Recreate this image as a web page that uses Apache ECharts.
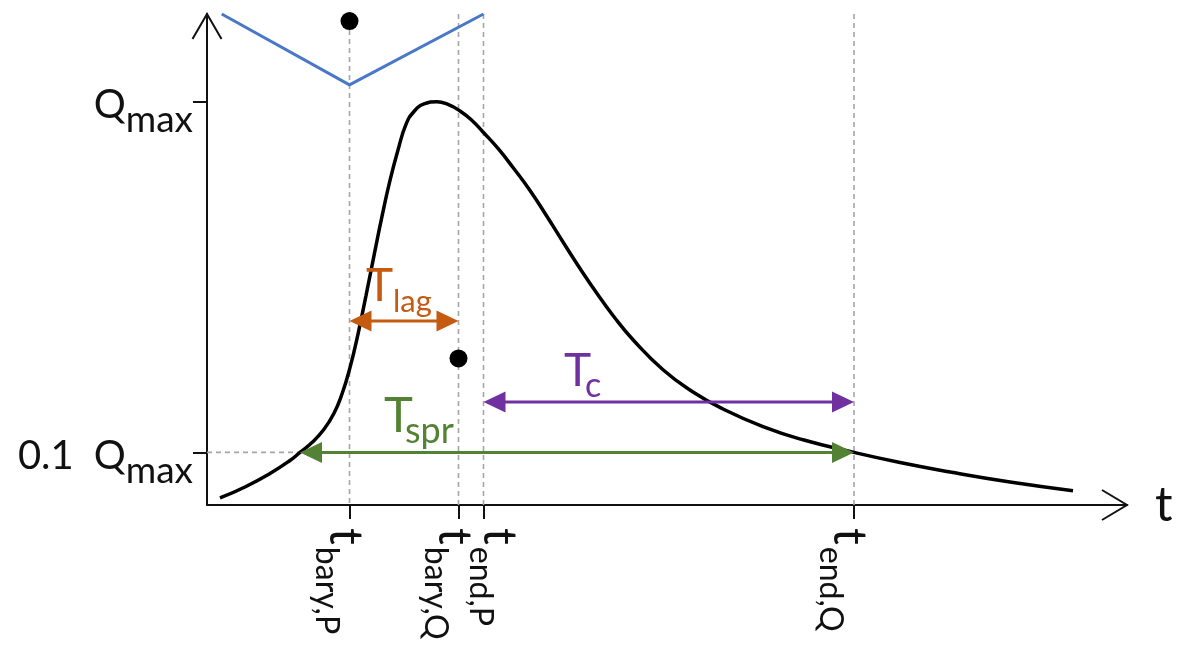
<!DOCTYPE html>
<html>
<head>
<meta charset="utf-8">
<script src="https://cdn.jsdelivr.net/npm/echarts@6/dist/echarts.min.js"></script>
<style>
  html, body { margin: 0; padding: 0; background: #ffffff; }
  #chart { width: 1184px; height: 651px; }
</style>
</head>
<body>
<div id="chart"></div>
<script>
// ---- event times on the t axis ----
const T_BARY_P = 14.25;
const T_BARY_Q = 25.15;
const T_END_P = 27.65;
const T_END_Q = 64.7;
const tickTimes = [T_BARY_P, T_BARY_Q, T_END_P, T_END_Q];
const tickSubs = ['bary,P', 'bary,Q', 'end,P', 'end,Q'];

// ---- discharge levels on the Q axis ----
const Q_MAX = 10;
const Q_TENTH = 1;
const qTicks = [Q_TENTH, Q_MAX];
const qTickMain = ['0.1\u2002Q', 'Q'];

// ---- hydrograph Q(t) ----
const flowT = [1.3, 3.8, 6.3, 8.3, 9.3, 10.5, 11.7, 12.7, 13.5, 14.3, 15.1, 15.9, 16.7, 17.5,
               18.3, 19.1, 19.9, 20.7, 21.7, 23.0, 24.1, 25.3, 26.5, 27.6, 29.1, 30.6, 32.3,
               34.0, 35.6, 37.3, 39.0, 40.6, 42.6, 45.6, 48.6, 51.6, 55.6, 59.6, 64.7,
               69.3, 74.3, 80.3, 86.6];
const flowQ = [-0.17, 0.112, 0.458, 0.792, 1.0, 1.254, 1.593, 2.003, 2.499, 3.176, 4.038, 5.024, 6.05, 7.056,
               7.98, 8.76, 9.417, 9.748, 9.941, 10.0, 9.928, 9.761, 9.517, 9.222, 8.799, 8.311, 7.721,
               7.054, 6.399, 5.719, 5.078, 4.513, 3.892, 3.122, 2.552, 2.114, 1.662, 1.323, 1.0,
               0.741, 0.497, 0.24, 0.017];

// ---- precipitation trace (hanging from the top) ----
const rainT = [1.47, T_BARY_P, T_END_P];
const rainQ = [12.25, 10.43, 12.25];

// ---- barycentres of P and Q ----
const baryT = [T_BARY_P, T_BARY_Q];
const baryQ = [12.07, 3.41];

// ---- time spans ----
const spanSubs = ['lag', 'c', 'spr'];
const spanFrom = [T_BARY_P, T_END_P, 9.3];
const spanTo = [T_BARY_Q, T_END_Q, T_END_Q];
const spanLevel = [4.37, 2.29, Q_TENTH];
const spanTextAt = [15.9, 35.7, 17.7];

// ---- axis ranges ----
const T_MIN = 0, T_MAX = 92;
const Q_MIN = -0.35, Q_TOP = 12.25;

// ---- styling ----
const FONT = 'Lato';
const INK = '#111111';
const GUIDE = '#a6a6a6';
const spanColors = ['#c55a11', '#7030a0', '#548235'];
const K_MID = 0.305; // canvas 'middle' line height above the alphabetic baseline, in em

const measureCtx = document.createElement('canvas').getContext('2d');
function textWidth(s, size) {
  measureCtx.font = size + 'px ' + FONT;
  return measureCtx.measureText(s).width;
}

// plain text element whose alphabetic baseline sits at y (horizontal text)
function textAt(str, x, baseline, size, color, align) {
  return {
    type: 'text', x: x, y: baseline - K_MID * size,
    style: { text: str, fontFamily: FONT, fontSize: size, fill: color,
             align: align || 'left', verticalAlign: 'middle' }
  };
}
// text turned a quarter-turn clockwise: reads top-to-bottom, baseline on the left at screen x
function textDown(str, baselineX, yStart, size, color) {
  return {
    type: 'text', x: baselineX + K_MID * size, y: yStart, rotation: -Math.PI / 2,
    style: { text: str, fontFamily: FONT, fontSize: size, fill: color,
             align: 'left', verticalAlign: 'middle' }
  };
}

// label metrics
const X_LAB = { main: 47, sub: 32, drop: 14, gap: 2, startBelow: 23 };
const xLabelBaselineShift = [-19, -19, 1, -19];
const Y_LAB = { main: 40, sub: 37, drop: 13.7, below: 15.8, right: 14 };
const spanMain = [46, 46, 49];
const spanSubSize = [31, 34, 36];
const spanSubOffset = [27, 21, 21];
const spanRaise = [21, 17.3, 21.3];
const spanDrop = [11.7, 11.7, 11.6];

const chart = echarts.init(document.getElementById('chart'), null, { renderer: 'canvas' });

const guideData = tickTimes.map((t, i) => [t, i === 0 ? baryQ[0] : Q_TOP, t, Q_MIN]);
guideData.push([T_MIN, Q_TENTH, spanFrom[2], Q_TENTH]);

const option = {
  animation: false,
  backgroundColor: '#ffffff',
  grid: { left: 207, right: 57, top: 14, bottom: 146, outerBoundsMode: 'none', containLabel: false },
  xAxis: {
    type: 'value', min: T_MIN, max: T_MAX,
    name: 't', nameLocation: 'end', nameGap: 28,
    nameTextStyle: { fontFamily: FONT, fontSize: 49, color: INK, verticalAlign: 'middle', align: 'left' },
    axisLine: { show: true, onZero: false, lineStyle: { color: INK, width: 2 } },
    axisTick: { show: true, customValues: tickTimes, length: 14, lineStyle: { color: INK, width: 2 } },
    axisLabel: { show: false },
    splitLine: { show: false }
  },
  yAxis: {
    type: 'value', min: Q_MIN, max: Q_TOP,
    axisLine: { show: true, onZero: false, lineStyle: { color: INK, width: 2 } },
    axisTick: { show: true, customValues: qTicks, length: 14, lineStyle: { color: INK, width: 2 } },
    axisLabel: { show: false },
    splitLine: { show: false }
  },
  series: [
    {
      // dashed guides at the event times and at 0.1 Qmax
      type: 'custom', name: 'guides', silent: true, z: 1,
      data: guideData,
      renderItem: (params, api) => {
        const a = api.coord([api.value(0), api.value(1)]);
        const b = api.coord([api.value(2), api.value(3)]);
        return { type: 'line', shape: { x1: a[0], y1: a[1], x2: b[0], y2: b[1] },
                 style: { stroke: GUIDE, lineWidth: 1.6, lineDash: [5, 4] } };
      }
    },
    {
      type: 'line', name: 'P', z: 3,
      data: rainT.map((t, i) => [t, rainQ[i]]),
      showSymbol: false, lineStyle: { color: '#4a78c9', width: 3 }
    },
    {
      type: 'line', name: 'Q', z: 4,
      data: flowT.map((t, i) => [t, flowQ[i]]),
      smooth: 0.5, showSymbol: false,
      lineStyle: { color: '#000000', width: 3.5 }
    },
    {
      type: 'scatter', name: 'barycentre', z: 6,
      data: baryT.map((t, i) => [t, baryQ[i]]),
      symbolSize: 18, itemStyle: { color: '#000000', opacity: 1 }
    },
    {
      // double-headed span arrows with their labels
      type: 'custom', name: 'spans', silent: true, z: 5,
      data: spanSubs.map((s, i) => [spanFrom[i], spanTo[i], spanLevel[i], spanTextAt[i]]),
      renderItem: (params, api) => {
        const i = params.dataIndex;
        const a = api.coord([api.value(0), api.value(2)]);
        const b = api.coord([api.value(1), api.value(2)]);
        const tx = api.coord([api.value(3), api.value(2)])[0];
        const c = spanColors[i];
        const L = 22, W = 10.5;
        const base = a[1] - spanRaise[i];
        return {
          type: 'group',
          children: [
            { type: 'line', shape: { x1: a[0] + L - 2, y1: a[1], x2: b[0] - L + 2, y2: b[1] },
              style: { stroke: c, lineWidth: 3 } },
            { type: 'polygon', shape: { points: [[a[0], a[1]], [a[0] + L, a[1] - W], [a[0] + L, a[1] + W]] },
              style: { fill: c } },
            { type: 'polygon', shape: { points: [[b[0], b[1]], [b[0] - L, b[1] - W], [b[0] - L, b[1] + W]] },
              style: { fill: c } },
            textAt('T', tx, base, spanMain[i], c),
            textAt(spanSubs[i], tx + spanSubOffset[i], base + spanDrop[i], spanSubSize[i], c)
          ]
        };
      }
    },
    {
      // event-time labels under the t axis
      type: 'custom', name: 'tLabels', silent: true, z: 8,
      data: tickTimes.map((t, i) => [t, Q_MIN, i]),
      renderItem: (params, api) => {
        const i = api.value(2);
        const p = api.coord([api.value(0), api.value(1)]);
        const bx = p[0] + xLabelBaselineShift[i];
        const y0 = p[1] + X_LAB.startBelow;
        const subStart = y0 + textWidth('t', X_LAB.main) + X_LAB.gap;
        return {
          type: 'group',
          children: [
            textDown('t', bx, y0, X_LAB.main, INK),
            textDown(tickSubs[i], bx - X_LAB.drop, subStart, X_LAB.sub, INK)
          ]
        };
      }
    },
    {
      // level labels left of the Q axis
      type: 'custom', name: 'qLabels', silent: true, z: 8,
      data: qTicks.map((q, i) => [T_MIN, q, i]),
      renderItem: (params, api) => {
        const i = api.value(2);
        const p = api.coord([api.value(0), api.value(1)]);
        const right = p[0] - Y_LAB.right;
        const base = p[1] + Y_LAB.below;
        const wSub = textWidth('max', Y_LAB.sub);
        return {
          type: 'group',
          children: [
            textAt(qTickMain[i], right - wSub, base, Y_LAB.main, INK, 'right'),
            textAt('max', right, base + Y_LAB.drop, Y_LAB.sub, INK, 'right')
          ]
        };
      }
    },
    {
      // open arrowheads at the ends of both axes
      type: 'custom', name: 'axisHeads', silent: true, z: 7,
      data: [[T_MAX, Q_MIN, 0], [T_MIN, Q_TOP, 1]],
      renderItem: (params, api) => {
        const p = api.coord([api.value(0), api.value(1)]);
        const pts = api.value(2) === 0
          ? [[p[0] - 25, p[1] - 15], [p[0], p[1]], [p[0] - 25, p[1] + 15]]
          : [[p[0] - 14.5, p[1] + 25], [p[0], p[1]], [p[0] + 14.5, p[1] + 25]];
        return { type: 'polyline', shape: { points: pts },
                 style: { stroke: INK, lineWidth: 2, fill: null } };
      }
    }
  ]
};

chart.setOption(option);
</script>
</body>
</html>
